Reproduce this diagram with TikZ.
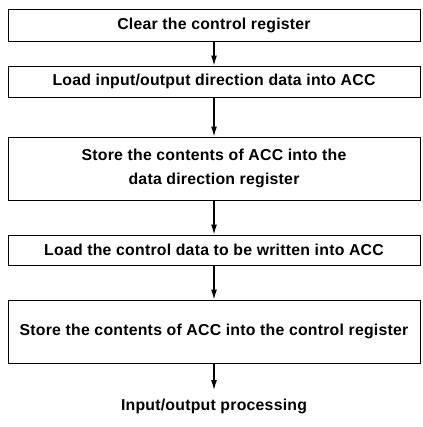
\documentclass[tikz,border=0pt]{standalone}
\usepackage{fontspec}
\setmainfont{Liberation Sans}[LetterSpace=1.5]
\usetikzlibrary{arrows.meta,positioning}
\begin{document}
\begin{tikzpicture}[x=0.03cm,y=-0.03cm,
	stepbox/.style={draw, line width=0.8pt, minimum width=12.36cm, inner sep=0pt, align=center, font=\fontsize{13.5}{20.4}\selectfont\bfseries},
	flow/.style={-{Latex[length=3mm,width=1.8mm]}, line width=1pt}]
		\useasboundingbox (0,0) rectangle (422,427);
		\node[stepbox, minimum height=0.96cm] (clear) at (214,25) {Clear the control register};
		\node[stepbox, minimum height=0.93cm] (loaddir) at (214,81.5) {Load input/output direction data into ACC};
		\node[stepbox, minimum height=1.89cm] (storedir) at (214,168.5) {Store the contents of ACC into the\\data direction register};
		\node[stepbox, minimum height=0.9cm] (loadctl) at (214,250) {Load the control data to be written into ACC};
		\node[stepbox, minimum height=1.89cm] (storectl) at (214,331.5) {Store the contents of ACC into the control register};
		\coordinate (out) at (214,390);
		\node[font=\fontsize{13.5}{15}\selectfont\bfseries] (io) at (214,406) {Input/output processing};

		\draw[flow] (clear) -- (loaddir);
		\draw[flow] (loaddir) -- (storedir);
		\draw[flow] (storedir) -- (loadctl);
		\draw[flow] (loadctl) -- (storectl);
		\draw[flow] (storectl) -- (out);
	\end{tikzpicture}
\end{document}
